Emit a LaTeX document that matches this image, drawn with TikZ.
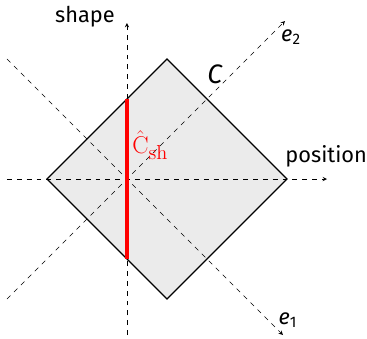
\documentclass[tikz,border=0pt]{standalone}
\usepackage[no-math]{fontspec}
\setmainfont{Fira Sans}
\begin{document}
\begin{tikzpicture}[
    axis/.style={->, dash pattern=on 3.5pt off 3.5pt, thin, >=stealth},
    region/.style={draw=black, thick, fill=black!8},
    slice/.style={red, line width=2.4pt},
    lbl/.style={font=\fontsize{15.5}{18}\selectfont, inner sep=1pt},
    big/.style={font=\fontsize{19}{22}\selectfont, inner sep=1pt},
]
\useasboundingbox (-3.175,-3.975) rectangle (6.0,4.475);

% Corners of the domain
\coordinate (left)   at (-2, 0);
\coordinate (top)    at ( 1, 3);
\coordinate (right)  at ( 4, 0);
\coordinate (bottom) at ( 1,-3);

\filldraw[region] (left) -- (top) -- (right) -- (bottom) -- cycle;

% Axes
\coordinate (xs) at (-3, 0);   \coordinate (xe) at (5, 0);
\coordinate (ys) at (0,-3.9);  \coordinate (ye) at (0, 3.9);
\coordinate (as) at (-3,-3);   \coordinate (ae) at (3.95, 3.95);
\coordinate (bs) at (-3, 3);   \coordinate (be) at (3.9,-3.9);
\draw[axis] (xs) -- (xe);
\draw[axis] (ys) -- (ye);
\draw[axis] (as) -- (ae);
\draw[axis] (bs) -- (be);

% Section at zero position
\coordinate (sh1) at (0, 2);
\coordinate (sh2) at (0,-2);
\draw[slice] (sh1) -- (sh2);

% Labels
\node[lbl] (shape)    at (-1.05, 4.05) {shape};
\node[lbl] (position) at (4.98, 0.57)  {position};
\node[lbl] (e2)       at (4.1, 3.55)   {\textit{e}\textsubscript{2}};
\node[lbl] (e1)       at (4.02, -3.52) {\textit{e}\textsubscript{1}};
\node[big] (C)        at (2.2, 2.62)   {\textit{C}};
\node[big, red, inner sep=0pt] (Csh) at (0.58, 0.85)
    {$\hat{\mathrm{C}}_{\mathrm{sh}}$};

\end{tikzpicture}
\end{document}
